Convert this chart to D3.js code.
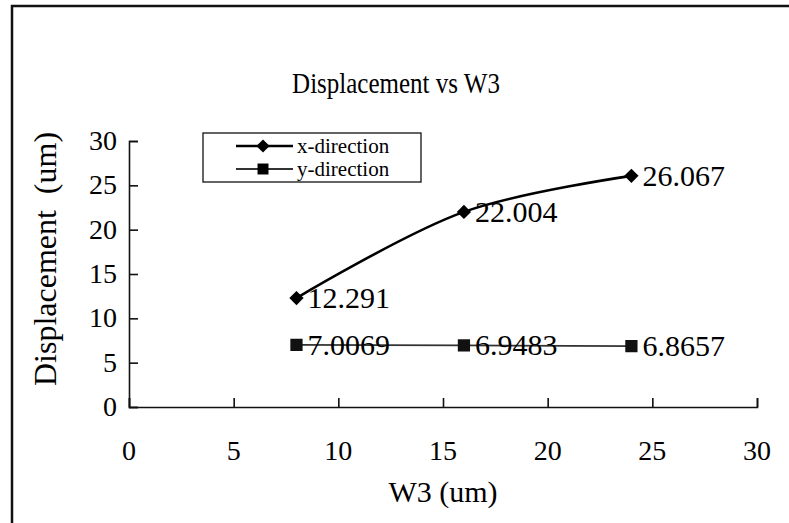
<!DOCTYPE html>
<html>
<head>
<meta charset="utf-8">
<script src="https://cdn.jsdelivr.net/npm/d3@7"></script>
<style>
  body { margin: 0; background: #fff; }
  text { font-family: "Liberation Serif", "DejaVu Serif", serif; fill: #000; }
</style>
</head>
<body>
<div id="chart"></div>
<script>
// data
const w3 = [8, 16, 24];
const xDirection = [12.291, 22.004, 26.067];
const yDirection = [7.0069, 6.9483, 6.8657];
const xLabels = ["12.291", "22.004", "26.067"];
const yLabels = ["7.0069", "6.9483", "6.8657"];
const xTicks = [0, 5, 10, 15, 20, 25, 30];
const yTicks = [0, 5, 10, 15, 20, 25, 30];

const width = 789, height = 523;

const svg = d3.select("#chart").append("svg")
  .attr("width", width)
  .attr("height", height);

// outer frame (runs off the right/bottom edges)
svg.append("rect")
  .attr("x", 12).attr("y", 6)
  .attr("width", 800).attr("height", 540)
  .attr("fill", "none")
  .attr("stroke", "#111")
  .attr("stroke-width", 2.5);

const x = d3.scaleLinear().domain([0, 30]).range([129, 757]);
const y = d3.scaleLinear().domain([0, 30]).range([407, 141]);

// axes with inward ticks
const xAxis = svg.append("g")
  .attr("transform", `translate(0,${y(0)})`)
  .call(d3.axisBottom(x).tickValues(xTicks).tickSize(-9).tickFormat(""));
const yAxis = svg.append("g")
  .attr("transform", `translate(${x(0)},0)`)
  .call(d3.axisLeft(y).tickValues(yTicks).tickSize(-9).tickFormat(""));
[xAxis, yAxis].forEach(g => {
  g.selectAll("path, line").attr("stroke", "#111").attr("stroke-width", 1.6);
});

// tick labels
svg.append("g").selectAll("text")
  .data(xTicks)
  .join("text")
  .attr("x", d => x(d))
  .attr("y", 460)
  .attr("text-anchor", "middle")
  .style("font-size", "28px")
  .text(d => d);

svg.append("g").selectAll("text")
  .data(yTicks)
  .join("text")
  .attr("x", 117)
  .attr("y", d => y(d) + 9)
  .attr("text-anchor", "end")
  .style("font-size", "28px")
  .text(d => d);

// titles (scan is a little stretched vertically)
svg.append("text")
  .attr("transform", "translate(396,93) scale(1,1.2)")
  .attr("text-anchor", "middle")
  .style("font-size", "25px")
  .text("Displacement vs W3");

svg.append("text")
  .attr("x", 443).attr("y", 502)
  .attr("text-anchor", "middle")
  .style("font-size", "30px")
  .text("W3 (um)");

svg.append("text")
  .attr("transform", "translate(56,259) rotate(-90)")
  .attr("text-anchor", "middle")
  .style("font-size", "32px")
  .style("white-space", "pre")
  .text("Displacement  (um)");

// lines
const pts1 = w3.map((d, i) => [d, xDirection[i]]);
const pts2 = w3.map((d, i) => [d, yDirection[i]]);

svg.append("path")
  .datum(pts2)
  .attr("fill", "none")
  .attr("stroke", "#333")
  .attr("stroke-width", 1.8)
  .attr("d", d3.line().x(d => x(d[0])).y(d => y(d[1])));

svg.append("path")
  .datum(pts1)
  .attr("fill", "none")
  .attr("stroke", "#000")
  .attr("stroke-width", 2.6)
  .attr("d", d3.line().curve(d3.curveCatmullRom.alpha(0.5)).x(d => x(d[0])).y(d => y(d[1])));

// markers
const diamond = d3.symbol().type(d3.symbolDiamond2).size(130);
const square = d3.symbol().type(d3.symbolSquare).size(150);

svg.append("g").selectAll("path")
  .data(pts1)
  .join("path")
  .attr("transform", d => `translate(${x(d[0])},${y(d[1])})`)
  .attr("d", diamond)
  .attr("fill", "#000");

svg.append("g").selectAll("path")
  .data(pts2)
  .join("path")
  .attr("transform", d => `translate(${x(d[0])},${y(d[1])})`)
  .attr("d", square)
  .attr("fill", "#111");

// data labels
svg.append("g").selectAll("text")
  .data(pts1)
  .join("text")
  .attr("x", d => x(d[0]) + 11)
  .attr("y", d => y(d[1]) + 10)
  .style("font-size", "30px")
  .text((d, i) => xLabels[i]);

svg.append("g").selectAll("text")
  .data(pts2)
  .join("text")
  .attr("x", d => x(d[0]) + 11)
  .attr("y", d => y(d[1]) + 10)
  .style("font-size", "30px")
  .text((d, i) => yLabels[i]);

// legend
const legend = svg.append("g");
legend.append("rect")
  .attr("x", 203).attr("y", 133)
  .attr("width", 218).attr("height", 49)
  .attr("fill", "#fff")
  .attr("stroke", "#111")
  .attr("stroke-width", 1.3);

const legendItems = [
  { name: "x-direction", sw: 2.6, cy: 146 },
  { name: "y-direction", sw: 1.8, cy: 169 }
];
legendItems.forEach((it, i) => {
  legend.append("line")
    .attr("x1", 236).attr("x2", 293)
    .attr("y1", it.cy).attr("y2", it.cy)
    .attr("stroke", i ? "#333" : "#000")
    .attr("stroke-width", it.sw);
  legend.append("path")
    .attr("transform", `translate(263,${it.cy})`)
    .attr("d", d3.symbol().type(i ? d3.symbolSquare : d3.symbolDiamond2).size(i ? 120 : 110))
    .attr("fill", "#000");
  legend.append("text")
    .attr("x", 297).attr("y", it.cy + 7)
    .style("font-size", "21px")
    .text(it.name);
});
</script>
</body>
</html>
